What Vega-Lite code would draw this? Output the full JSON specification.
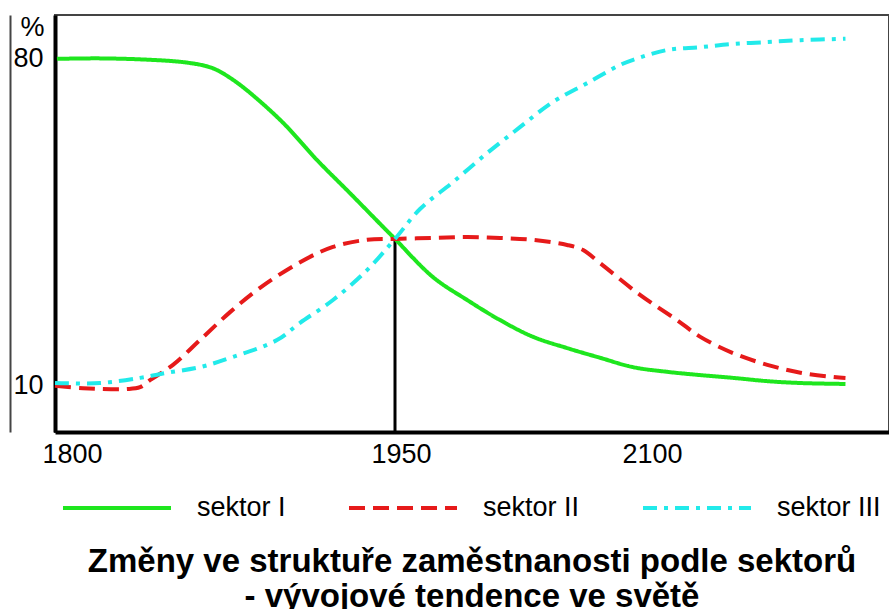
{
  "$schema": "https://vega.github.io/schema/vega-lite/v6.json",
  "width": 834,
  "height": 417,
  "autosize": {"type": "none"},
  "padding": {"left": 55, "top": 15, "right": 0, "bottom": 177},
  "background": "white",
  "config": {
    "font": "Liberation Sans",
    "view": {"stroke": "#444444", "strokeWidth": 2}
  },
  "title": {
    "text": ["Změny ve struktuře zaměstnanosti podle sektorů", "- vývojové tendence ve světě"],
    "orient": "bottom",
    "anchor": "middle",
    "fontSize": 33,
    "fontWeight": "bold",
    "color": "black",
    "lineHeight": 35,
    "offset": 25
  },
  "resolve": {"axis": {"y": "independent"}},
  "datasets": {
    "curves": [
      {"sector": "sektor I", "year": 1793.0, "value": 80.0},
      {"sector": "sektor I", "year": 1813.0, "value": 80.1},
      {"sector": "sektor I", "year": 1836.2, "value": 79.8},
      {"sector": "sektor I", "year": 1851.5, "value": 79.3},
      {"sector": "sektor I", "year": 1861.8, "value": 78.5},
      {"sector": "sektor I", "year": 1867.3, "value": 77.6},
      {"sector": "sektor I", "year": 1874.8, "value": 75.5},
      {"sector": "sektor I", "year": 1882.7, "value": 72.7},
      {"sector": "sektor I", "year": 1898.0, "value": 66.3},
      {"sector": "sektor I", "year": 1913.8, "value": 58.3},
      {"sector": "sektor I", "year": 1929.1, "value": 51.2},
      {"sector": "sektor I", "year": 1944.4, "value": 44.0},
      {"sector": "sektor I", "year": 1950.0, "value": 41.4},
      {"sector": "sektor I", "year": 1972.2, "value": 33.2},
      {"sector": "sektor I", "year": 1992.1, "value": 28.3},
      {"sector": "sektor I", "year": 2011.3, "value": 24.0},
      {"sector": "sektor I", "year": 2030.6, "value": 20.4},
      {"sector": "sektor I", "year": 2050.4, "value": 18.0},
      {"sector": "sektor I", "year": 2069.8, "value": 15.9},
      {"sector": "sektor I", "year": 2089.0, "value": 13.9},
      {"sector": "sektor I", "year": 2108.9, "value": 12.9},
      {"sector": "sektor I", "year": 2128.2, "value": 12.2},
      {"sector": "sektor I", "year": 2147.4, "value": 11.6},
      {"sector": "sektor I", "year": 2167.3, "value": 10.9},
      {"sector": "sektor I", "year": 2186.6, "value": 10.5},
      {"sector": "sektor I", "year": 2212.9, "value": 10.3},
      {"sector": "sektor II", "year": 1792.1, "value": 9.9},
      {"sector": "sektor II", "year": 1805.1, "value": 9.4},
      {"sector": "sektor II", "year": 1825.5, "value": 9.2},
      {"sector": "sektor II", "year": 1831.6, "value": 9.6},
      {"sector": "sektor II", "year": 1836.2, "value": 11.1},
      {"sector": "sektor II", "year": 1846.9, "value": 14.4},
      {"sector": "sektor II", "year": 1859.4, "value": 19.7},
      {"sector": "sektor II", "year": 1873.4, "value": 25.7},
      {"sector": "sektor II", "year": 1887.3, "value": 30.9},
      {"sector": "sektor II", "year": 1905.9, "value": 36.4},
      {"sector": "sektor II", "year": 1921.2, "value": 39.7},
      {"sector": "sektor II", "year": 1937.0, "value": 41.2},
      {"sector": "sektor II", "year": 1950.0, "value": 41.4},
      {"sector": "sektor II", "year": 1972.2, "value": 41.6},
      {"sector": "sektor II", "year": 1992.1, "value": 41.8},
      {"sector": "sektor II", "year": 2011.3, "value": 41.6},
      {"sector": "sektor II", "year": 2030.6, "value": 41.2},
      {"sector": "sektor II", "year": 2050.4, "value": 40.1},
      {"sector": "sektor II", "year": 2059.8, "value": 39.0},
      {"sector": "sektor II", "year": 2069.7, "value": 36.2},
      {"sector": "sektor II", "year": 2093.0, "value": 29.4},
      {"sector": "sektor II", "year": 2114.6, "value": 24.0},
      {"sector": "sektor II", "year": 2128.2, "value": 20.4},
      {"sector": "sektor II", "year": 2147.4, "value": 16.9},
      {"sector": "sektor II", "year": 2167.3, "value": 14.4},
      {"sector": "sektor II", "year": 2186.6, "value": 12.7},
      {"sector": "sektor II", "year": 2205.9, "value": 11.8},
      {"sector": "sektor II", "year": 2212.9, "value": 11.6},
      {"sector": "sektor III", "year": 1792.1, "value": 10.5},
      {"sector": "sektor III", "year": 1813.0, "value": 10.5},
      {"sector": "sektor III", "year": 1831.6, "value": 11.6},
      {"sector": "sektor III", "year": 1844.1, "value": 12.7},
      {"sector": "sektor III", "year": 1859.4, "value": 13.9},
      {"sector": "sektor III", "year": 1874.8, "value": 16.1},
      {"sector": "sektor III", "year": 1895.2, "value": 19.7},
      {"sector": "sektor III", "year": 1905.9, "value": 23.4},
      {"sector": "sektor III", "year": 1921.2, "value": 28.3},
      {"sector": "sektor III", "year": 1937.0, "value": 34.7},
      {"sector": "sektor III", "year": 1950.0, "value": 41.4},
      {"sector": "sektor III", "year": 1964.6, "value": 47.8},
      {"sector": "sektor III", "year": 1983.9, "value": 53.6},
      {"sector": "sektor III", "year": 2003.8, "value": 59.8},
      {"sector": "sektor III", "year": 2023.1, "value": 65.4},
      {"sector": "sektor III", "year": 2042.3, "value": 70.8},
      {"sector": "sektor III", "year": 2062.2, "value": 74.8},
      {"sector": "sektor III", "year": 2081.4, "value": 78.7},
      {"sector": "sektor III", "year": 2089.0, "value": 79.8},
      {"sector": "sektor III", "year": 2108.9, "value": 81.9},
      {"sector": "sektor III", "year": 2128.2, "value": 82.5},
      {"sector": "sektor III", "year": 2147.4, "value": 83.2},
      {"sector": "sektor III", "year": 2167.3, "value": 83.6},
      {"sector": "sektor III", "year": 2186.6, "value": 84.0},
      {"sector": "sektor III", "year": 2212.9, "value": 84.3}
    ],
    "marker": [{"year": 1950, "value": 41.4}]
  },
  "layer": [
    {
      "data": {"name": "marker"},
      "mark": {"type": "rule", "color": "black", "strokeWidth": 3},
      "encoding": {
        "x": {
          "field": "year", "type": "quantitative",
          "scale": {"domain": [1792.1, 1800, 1950, 2100, 2238.3], "range": [0, 17, 340, 597, 834], "nice": false, "zero": false},
          "axis": {
            "values": [1800, 1950, 2100],
            "format": "d",
            "title": null,
            "grid": false,
            "ticks": false,
            "domainColor": "black",
            "domainWidth": 4,
            "labelFontSize": 27,
            "labelColor": "black",
            "labelPadding": 9,
            "labelFlush": false,
            "labelOverlap": false,
            "labelOffset": {"condition": {"test": "datum.value == 1950", "value": 6}, "value": 0}
          }
        },
        "y": {
          "field": "value", "type": "quantitative",
          "scale": {"domain": [0, 89.4], "nice": false, "zero": false},
          "axis": {
            "values": [10, 80],
            "title": "%",
            "titleAngle": 0,
            "titleX": -23,
            "titleY": 12,
            "titleAlign": "center",
            "titleBaseline": "middle",
            "titleFontSize": 27,
            "titleFontWeight": "normal",
            "titleColor": "black",
            "grid": false,
            "ticks": false,
            "domainColor": "black",
            "domainWidth": 4,
            "labelFontSize": 27,
            "labelColor": "black",
            "labelPadding": 12,
            "labelFlush": false,
            "labelOverlap": false
          }
        },
        "y2": {"datum": 0}
      }
    },
    {
      "data": {"name": "curves"},
      "mark": {"type": "line", "strokeWidth": 4, "interpolate": "catmull-rom", "strokeCap": "butt"},
      "encoding": {
        "x": {"field": "year", "type": "quantitative"},
        "y": {
          "field": "value", "type": "quantitative",
          "axis": {
            "orient": "left",
            "offset": 45,
            "title": null,
            "labels": false,
            "ticks": false,
            "grid": false,
            "domainColor": "#444444",
            "domainWidth": 2
          }
        },
        "color": {
          "field": "sector", "type": "nominal",
          "scale": {"domain": ["sektor I", "sektor II", "sektor III"], "range": ["#1ee61e", "#e61a1a", "#22eaea"]},
          "legend": {
            "title": null,
            "orient": "none",
            "direction": "horizontal",
            "legendX": 6,
            "legendY": 437,
            "symbolType": "stroke",
            "symbolSize": 11664,
            "symbolStrokeWidth": 4,
            "labelFontSize": 27,
            "labelColor": "black",
            "labelOffset": 24,
            "labelLimit": 300,
            "columnPadding": 55
          }
        },
        "strokeDash": {
          "field": "sector", "type": "nominal",
          "scale": {"domain": ["sektor I", "sektor II", "sektor III"], "range": [[1, 0], [16, 8], [14, 7, 4, 7]]},
          "legend": null
        }
      }
    }
  ]
}
